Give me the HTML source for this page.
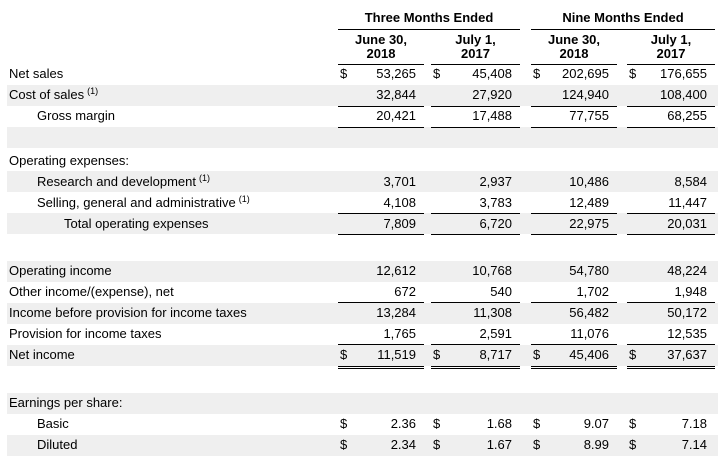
<!DOCTYPE html>
<html><head><style>
body{margin:0;width:718px;height:461px;background:#fff;font-family:"Liberation Sans",Arial,sans-serif;font-size:13px;color:#000;position:relative;overflow:hidden}
div{position:absolute}
.s{left:7px;width:711px;height:21px;background:#efefef}
.t{left:9px;white-space:nowrap;line-height:21px;height:21px}
.n{width:90px;text-align:right;line-height:21px;height:21px}
.d{line-height:21px;height:21px}
.l{height:1px;background:#000}
.h{font-weight:bold;text-align:center;line-height:14px}
sup{font-size:9px;position:relative;top:-3px;vertical-align:top;margin-left:3px}
</style></head><body>
<div class="h" style="left:338px;width:182px;top:11px">Three Months Ended</div>
<div class="h" style="left:531px;width:184px;top:11px">Nine Months Ended</div>
<div class="l" style="left:338px;width:182px;top:29px"></div>
<div class="l" style="left:531px;width:184px;top:29px"></div>
<div class="h" style="left:338px;width:86px;top:33px">June 30,<br>2018</div>
<div class="h" style="left:431px;width:89px;top:33px">July 1,<br>2017</div>
<div class="h" style="left:531px;width:86px;top:33px">June 30,<br>2018</div>
<div class="h" style="left:627px;width:88px;top:33px">July 1,<br>2017</div>

<div class="s" style="top:85px"></div>
<div class="s" style="top:127px;height:21px"></div>
<div class="s" style="top:171px"></div>
<div class="s" style="top:213px"></div>
<div class="s" style="top:261px"></div>
<div class="s" style="top:303px"></div>
<div class="s" style="top:345px"></div>
<div class="s" style="top:393px"></div>
<div class="s" style="top:435px"></div>

<div id="rows"></div>
<script>
const cols=[[338,424],[431,520],[531,617],[627,715]];
const rows=[
[63,"Net sales",0,["53,265","45,408","202,695","176,655"],1],
[84,"Cost of sales",0,["32,844","27,920","124,940","108,400"],0,1],
[105,"Gross margin",1,["20,421","17,488","77,755","68,255"]],
[150,"Operating expenses:",0,null],
[171,"Research and development",1,["3,701","2,937","10,486","8,584"],0,1],
[192,"Selling, general and administrative",1,["4,108","3,783","12,489","11,447"],0,1],
[213,"Total operating expenses",2,["7,809","6,720","22,975","20,031"]],
[260,"Operating income",0,["12,612","10,768","54,780","48,224"]],
[281,"Other income/(expense), net",0,["672","540","1,702","1,948"]],
[302,"Income before provision for income taxes",0,["13,284","11,308","56,482","50,172"]],
[323,"Provision for income taxes",0,["1,765","2,591","11,076","12,535"]],
[344,"Net income",0,["11,519","8,717","45,406","37,637"],1],
[392,"Earnings per share:",0,null],
[413,"Basic",1,["2.36","1.68","9.07","7.18"],1],
[434,"Diluted",1,["2.34","1.67","8.99","7.14"],1]];
let h="";
for(const r of rows){
 const ind=[9,37,64][r[2]];
 h+=`<div class="t" style="left:${ind}px;top:${r[0]}px">${r[1]}${r[5]?'<sup>(1)</sup>':''}</div>`;
 if(r[3]) r[3].forEach((v,i)=>{
  h+=`<div class="n" style="left:${cols[i][1]-98}px;top:${r[0]}px">${v}</div>`;
  if(r[4]) h+=`<div class="d" style="left:${cols[i][0]+2}px;top:${r[0]}px">$</div>`;
 });
}
const lines=[64,106,127,213,234,302,344,366,368];
for(const y of lines) for(const c of cols) h+=`<div class="l" style="left:${c[0]}px;width:${c[1]-c[0]}px;top:${y}px"></div>`;
document.getElementById("rows").outerHTML=h;
</script>
</body></html>
